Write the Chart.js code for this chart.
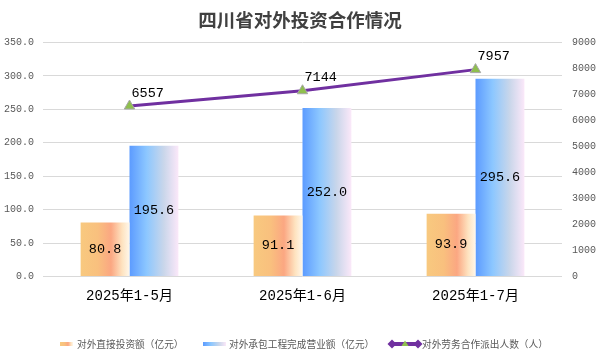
<!DOCTYPE html>
<html>
<head>
<meta charset="utf-8">
<script src="https://cdn.jsdelivr.net/npm/chart.js@4.4.1/dist/chart.umd.min.js"></script>
<style>
  html, body { margin: 0; padding: 0; background: #ffffff; }
  #wrap { width: 604px; height: 361px; position: relative; }
</style>
</head>
<body>
<div id="wrap"><canvas id="c" width="604" height="361"></canvas></div>
<script>
const chartTitle = '四川省对外投资合作情况';
const categories = ['2025年1-5月', '2025年1-6月', '2025年1-7月'];
const seriesNames = ['对外直接投资额（亿元）', '对外承包工程完成营业额（亿元）', '对外劳务合作派出人数（人）'];
const directInvestment = [80.8, 91.1, 93.9];
const contractRevenue = [195.6, 252.0, 295.6];
const laborDispatched = [6557, 7144, 7957];

const CAT_PCT = 0.565;
const ORANGE_STOPS = [[0, '#F8C97F'], [0.35, '#F9C07E'], [0.62, '#FBA782'], [0.85, '#FEE3C0'], [1, '#FFF7EA']];
const BLUE_STOPS = [[0, '#5C9BFF'], [0.35, '#8CC7FF'], [0.7, '#C9D6EA'], [1, '#FBE8F9']];
const PURPLE = '#7030A0';
const GREEN = '#8FBF4E';
const MONO = '"Liberation Mono", "Noto Sans CJK SC", monospace';
const CJK = '"Noto Sans CJK SC", sans-serif';

function makeGrad(ctx, x0, x1, stops) {
  const g = ctx.createLinearGradient(x0, 0, x1, 0);
  stops.forEach(s => g.addColorStop(s[0], s[1]));
  return g;
}

function barGradient(stops, side) {
  return function (c) {
    if (c.type !== 'data') return stops[0][1];
    const chart = c.chart;
    const xs = chart.scales.x;
    if (!xs || !chart.chartArea) return stops[0][1];
    const center = xs.getPixelForValue(c.dataIndex);
    const cw = (xs.right - xs.left) / categories.length;
    const w = cw * CAT_PCT / 2;
    const x0 = side < 0 ? center - w : center;
    return makeGrad(chart.ctx, x0, x0 + w, stops);
  };
}

const extras = {
  id: 'extras',
  afterDraw(chart) {
    const ctx = chart.ctx;
    ctx.save();
    // title
    ctx.fillStyle = '#404040';
    ctx.font = 'bold 18.5px ' + CJK;
    ctx.textAlign = 'center';
    ctx.textBaseline = 'middle';
    ctx.fillText(chartTitle, 300, 20);

    // bar value labels
    ctx.fillStyle = '#000000';
    ctx.font = '13.5px ' + MONO;
    [1, 2].forEach(di => {
      const meta = chart.getDatasetMeta(di);
      const vals = chart.data.datasets[di].data;
      meta.data.forEach((el, i) => {
        const midY = (el.y + el.base) / 2;
        ctx.textAlign = 'center';
        ctx.textBaseline = 'middle';
        ctx.fillText(vals[i].toFixed(1), el.x, midY);
      });
    });
    // line labels
    const lm = chart.getDatasetMeta(0);
    lm.data.forEach((el, i) => {
      ctx.textAlign = 'left';
      ctx.textBaseline = 'middle';
      ctx.fillText(String(laborDispatched[i]), el.x + 2, el.y - 13);
    });

    // legend
    const ly = 344;
    ctx.font = '9.7px ' + CJK;
    ctx.textAlign = 'left';
    ctx.textBaseline = 'middle';
    ctx.fillStyle = makeGrad(ctx, 60, 73, ORANGE_STOPS);
    ctx.fillRect(60, ly - 2, 13, 4);
    ctx.fillStyle = '#595959';
    ctx.fillText(seriesNames[0], 77, ly);

    ctx.fillStyle = makeGrad(ctx, 203, 226, BLUE_STOPS);
    ctx.fillRect(203, ly - 2, 23, 4);
    ctx.fillStyle = '#595959';
    ctx.fillText(seriesNames[1], 229, ly);

    ctx.strokeStyle = PURPLE;
    ctx.lineWidth = 4;
    ctx.beginPath();
    ctx.moveTo(392, ly);
    ctx.lineTo(418, ly);
    ctx.stroke();
    ctx.fillStyle = PURPLE;
    [392, 418].forEach(x => {
      ctx.beginPath();
      ctx.moveTo(x, ly - 4.5);
      ctx.lineTo(x + 4.5, ly);
      ctx.lineTo(x, ly + 4.5);
      ctx.lineTo(x - 4.5, ly);
      ctx.closePath();
      ctx.fill();
    });
    ctx.fillStyle = GREEN;
    ctx.beginPath();
    ctx.moveTo(405, ly - 3.5);
    ctx.lineTo(408.5, ly + 2);
    ctx.lineTo(401.5, ly + 2);
    ctx.closePath();
    ctx.fill();
    ctx.fillStyle = '#595959';
    ctx.fillText(seriesNames[2], 422, ly);
    ctx.restore();
  }
};

new Chart(document.getElementById('c'), {
  data: {
    labels: categories,
    datasets: [
      {
        type: 'line',
        label: seriesNames[2],
        data: laborDispatched,
        yAxisID: 'y1',
        borderColor: PURPLE,
        borderWidth: 3,
        pointStyle: 'triangle',
        pointRadius: 6,
        pointBackgroundColor: GREEN,
        pointBorderColor: '#A6A6A6',
        pointBorderWidth: 1,
        tension: 0,
        order: 0
      },
      {
        type: 'bar',
        label: seriesNames[0],
        data: directInvestment,
        yAxisID: 'y',
        backgroundColor: barGradient(ORANGE_STOPS, -1),
        borderWidth: 0,
        barPercentage: 1,
        categoryPercentage: CAT_PCT,
        order: 1
      },
      {
        type: 'bar',
        label: seriesNames[1],
        data: contractRevenue,
        yAxisID: 'y',
        backgroundColor: barGradient(BLUE_STOPS, 1),
        borderWidth: 0,
        barPercentage: 1,
        categoryPercentage: CAT_PCT,
        order: 1
      }
    ]
  },
  options: {
    responsive: false,
    animation: false,
    events: [],
    layout: { padding: { top: 42.5, left: 0, right: 0, bottom: 0 } },
    plugins: { legend: { display: false }, tooltip: { enabled: false }, title: { display: false } },
    scales: {
      x: {
        type: 'category',
        offset: true,
        grid: { display: false, drawTicks: false },
        border: { display: false },
        ticks: { color: '#000000', font: { family: MONO, size: 14 }, padding: 11, maxRotation: 0 },
        afterFit(s) { s.height = 84.5; }
      },
      y: {
        position: 'left',
        min: 0, max: 350,
        grid: { color: '#D9D9D9', lineWidth: 1, drawTicks: false },
        border: { display: false },
        ticks: { stepSize: 50, color: '#595959', font: { family: MONO, size: 10 }, padding: 9,
          callback: v => Number(v).toFixed(1) },
        afterFit(s) { s.width = 43; }
      },
      y1: {
        position: 'right',
        min: 0, max: 9000,
        grid: { display: false, drawTicks: false },
        border: { display: false },
        ticks: { stepSize: 1000, color: '#595959', font: { family: MONO, size: 10 }, padding: 10,
          callback: v => String(v) },
        afterFit(s) { s.width = 42; }
      }
    }
  },
  plugins: [extras]
});
</script>
</body>
</html>
